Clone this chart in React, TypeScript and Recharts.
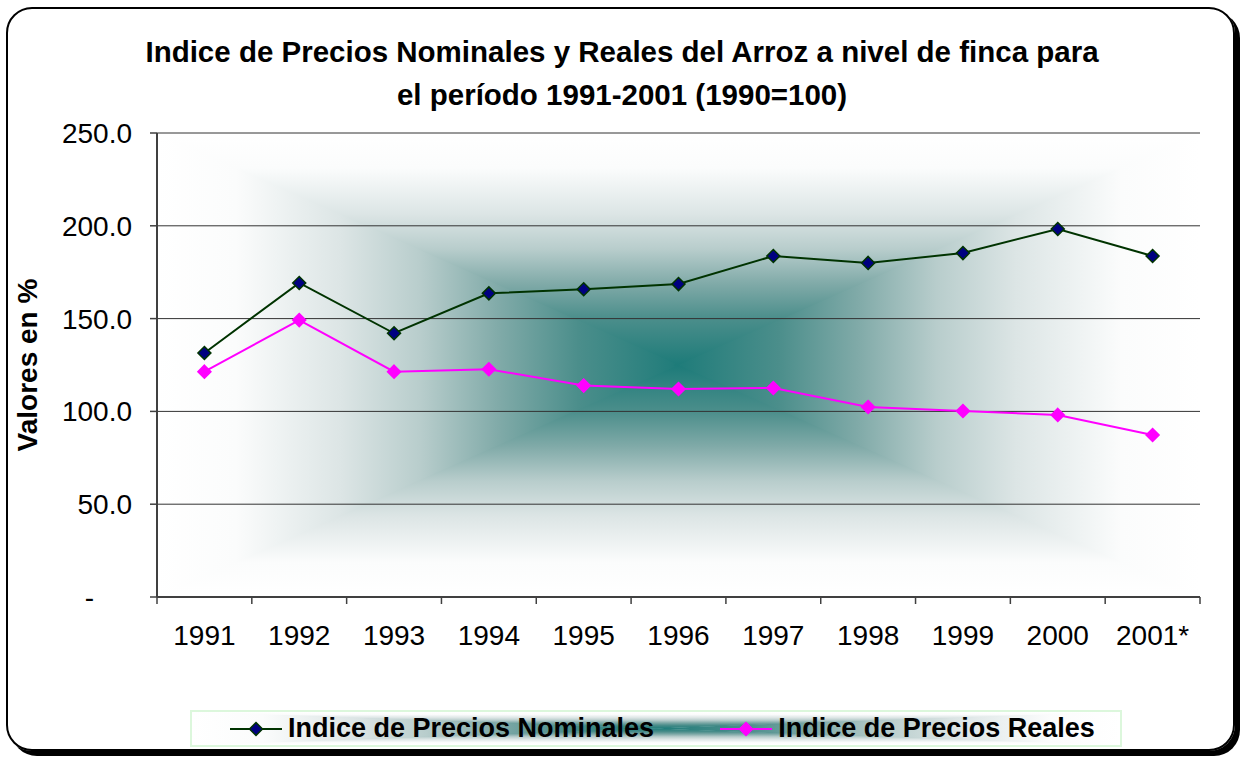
import { CartesianGrid, Line, LineChart, XAxis, YAxis } from "recharts";

const YEARS = ["1991", "1992", "1993", "1994", "1995", "1996", "1997", "1998", "1999", "2000", "2001*"];
const NOMINAL = [131.5, 169.2, 142.1, 163.6, 165.8, 168.6, 183.7, 180.0, 185.3, 198.3, 183.7];
const REAL = [121.4, 149.2, 121.4, 122.7, 113.9, 112.1, 112.6, 102.4, 100.2, 98.1, 87.3];
const Y_TICKS = [0, 50, 100, 150, 200, 250];

const TITLE_1 = "Indice de Precios Nominales y Reales del Arroz a nivel de finca para";
const TITLE_2 = "el período 1991-2001 (1990=100)";
const Y_LABEL = "Valores en %";
const NOMINAL_NAME = "Indice de Precios Nominales";
const REAL_NAME = "Indice de Precios Reales";

const NOMINAL_STROKE = "#003300";
const NOMINAL_FILL = "#000080";
const REAL_COLOR = "#ff00ff";
const FONT = "'Liberation Sans', Arial, sans-serif";

const W = 1241;
const H = 761;
const MARGIN = { top: 133, right: 41, left: 57, bottom: 104 };
const Y_AXIS_W = 100;
const PLOT_W = W - MARGIN.left - Y_AXIS_W - MARGIN.right;
const BAND = PLOT_W / YEARS.length;

const data = YEARS.map((year, i) => ({ year, nominal: NOMINAL[i], real: REAL[i] }));

// edge -> centre colour ramp of the "from centre" fill
const STOPS: [number, string][] = [
  [0, "#ffffff"],
  [0.15, "#fbfcfc"],
  [0.35, "#dce5e5"],
  [0.5, "#b8cdcc"],
  [0.65, "#80aaa8"],
  [0.8, "#4b8e8b"],
  [1, "#1d7b79"],
];

function Ramp({ id, x1, y1, x2, y2 }: { id: string; x1: number; y1: number; x2: number; y2: number }) {
  return (
    <linearGradient id={id} x1={x1} y1={y1} x2={x2} y2={y2}>
      {STOPS.map(([o, c]) => (
        <stop key={o} offset={o} stopColor={c} />
      ))}
    </linearGradient>
  );
}

function Defs() {
  return (
    <svg width={0} height={0} style={{ position: "absolute" }}>
      <defs>
        <Ramp id="rT" x1={0} y1={0} x2={0} y2={1} />
        <Ramp id="rB" x1={0} y1={1} x2={0} y2={0} />
        <Ramp id="rL" x1={0} y1={0} x2={1} y2={0} />
        <Ramp id="rR" x1={1} y1={0} x2={0} y2={0} />
        <pattern id="ctr" patternUnits="objectBoundingBox" patternContentUnits="objectBoundingBox" x={0} y={0} width={1} height={1}>
          {/* side pieces slightly oversized so the top/bottom pieces cover the seams */}
          <polygon points="0,-0.05 0.505,0.5 0,1.05" fill="url(#rL)" />
          <polygon points="1,-0.05 0.495,0.5 1,1.05" fill="url(#rR)" />
          <polygon points="0,0 1,0 0.5,0.5" fill="url(#rT)" />
          <polygon points="0,1 1,1 0.5,0.5" fill="url(#rB)" />
        </pattern>
      </defs>
    </svg>
  );
}

function Diamond({ cx, cy, fill, stroke }: { cx: number; cy: number; fill: string; stroke: string }) {
  const r = 6.5;
  return (
    <polygon
      points={`${cx},${cy - r} ${cx + r},${cy} ${cx},${cy + r} ${cx - r},${cy}`}
      fill={fill}
      stroke={stroke}
      strokeWidth={1.5}
    />
  );
}

function XTick(props: any) {
  const { x, y, payload } = props;
  const i = YEARS.indexOf(payload.value);
  const left = x - BAND / 2;
  return (
    <g>
      <line x1={left} y1={y - 7} x2={left} y2={y} stroke="#404040" strokeWidth={1.5} />
      {i === YEARS.length - 1 && (
        <line x1={x + BAND / 2} y1={y - 7} x2={x + BAND / 2} y2={y} stroke="#404040" strokeWidth={1.5} />
      )}
      <text x={x} y={y + 21} dy="0.71em" textAnchor="middle" fontSize={28} fontFamily={FONT} fill="#000">
        {payload.value}
      </text>
    </g>
  );
}

function YTick(props: any) {
  const { x, y, payload } = props;
  const v = payload.value as number;
  return (
    <text
      x={v === 0 ? x - 38 : x}
      y={y}
      dy="0.355em"
      textAnchor="end"
      fontSize={28}
      fontFamily={FONT}
      fill="#000"
    >
      {v === 0 ? "-" : v.toFixed(1)}
    </text>
  );
}

function LegendIcon({ fill, stroke }: { fill: string; stroke: string }) {
  return (
    <svg width={52} height={20} style={{ display: "block" }}>
      <line x1={0} y1={10} x2={52} y2={10} stroke={stroke} strokeWidth={2} />
      <Diamond cx={26} cy={10} fill={fill} stroke={stroke} />
    </svg>
  );
}

export default function App() {
  return (
    <div style={{ position: "absolute", left: 0, top: 0, width: W, height: H, background: "#fff", fontFamily: FONT }}>
      <Defs />
      <div
        style={{
          position: "absolute",
          left: 6,
          top: 7,
          width: 1229,
          height: 744,
          boxSizing: "border-box",
          border: "2px solid #000",
          borderRadius: 26,
          boxShadow: "5px 5px 0 #000",
        }}
      />
      <div
        style={{
          position: "absolute",
          left: 0,
          top: 30,
          width: 1244,
          textAlign: "center",
          fontWeight: "bold",
          fontSize: 29.5,
          lineHeight: "43px",
          color: "#000",
        }}
      >
        <div>{TITLE_1}</div>
        <div>{TITLE_2}</div>
      </div>
      <div
        style={{
          position: "absolute",
          left: 28,
          top: 365,
          transform: "translate(-50%, -50%) rotate(-90deg)",
          whiteSpace: "nowrap",
          fontWeight: "bold",
          fontSize: 28,
          lineHeight: 1,
        }}
      >
        {Y_LABEL}
      </div>
      <div style={{ position: "absolute", left: 0, top: 0 }}>
        <LineChart width={W} height={H} data={data} margin={MARGIN}>
          <CartesianGrid vertical={false} stroke="#333" fill="url(#ctr)" />
          <XAxis
            dataKey="year"
            height={60}
            interval={0}
            padding={{ left: BAND / 2, right: BAND / 2 }}
            tickLine={false}
            tickSize={7}
            tickMargin={0}
            axisLine={{ stroke: "#404040", strokeWidth: 2 }}
            tick={<XTick />}
          />
          <XAxis
            xAxisId="top"
            dataKey="year"
            orientation="top"
            height={0}
            tick={false}
            tickLine={false}
            axisLine={{ stroke: "#999", strokeWidth: 2 }}
          />
          <YAxis
            width={Y_AXIS_W}
            domain={[0, 250]}
            ticks={Y_TICKS}
            interval={0}
            tickSize={7}
            tickMargin={18}
            tickLine={{ stroke: "#404040", strokeWidth: 1.5 }}
            axisLine={{ stroke: "#404040", strokeWidth: 2 }}
            tick={<YTick />}
          />
          <YAxis
            yAxisId="right"
            orientation="right"
            width={0}
            domain={[0, 250]}
            tick={false}
            tickLine={false}
            axisLine={{ stroke: "#999", strokeWidth: 2 }}
          />
          <Line
            dataKey="nominal"
            name={NOMINAL_NAME}
            stroke={NOMINAL_STROKE}
            strokeWidth={2}
            isAnimationActive={false}
            activeDot={false}
            dot={(p: any) => <Diamond key={p.index} cx={p.cx} cy={p.cy} fill={NOMINAL_FILL} stroke={NOMINAL_STROKE} />}
          />
          <Line
            dataKey="real"
            name={REAL_NAME}
            stroke={REAL_COLOR}
            strokeWidth={2}
            isAnimationActive={false}
            activeDot={false}
            dot={(p: any) => <Diamond key={p.index} cx={p.cx} cy={p.cy} fill={REAL_COLOR} stroke={REAL_COLOR} />}
          />
        </LineChart>
      </div>
      <div
        style={{
          position: "absolute",
          left: 190,
          top: 710,
          width: 932,
          height: 37,
          boxSizing: "border-box",
          border: "2px solid #dcf7dc",
          display: "flex",
          alignItems: "center",
          fontWeight: "bold",
          fontSize: 27,
          color: "#000",
        }}
      >
        <svg width="100%" height="100%" style={{ position: "absolute", left: 0, top: 0 }} preserveAspectRatio="none">
          <rect x={0} y={0} width="100%" height="100%" fill="url(#ctr)" />
        </svg>
        <div style={{ position: "relative", display: "flex", alignItems: "center", marginLeft: 38 }}>
          <LegendIcon fill={NOMINAL_FILL} stroke={NOMINAL_STROKE} />
          <span style={{ marginLeft: 6 }}>{NOMINAL_NAME}</span>
        </div>
        <div style={{ position: "relative", display: "flex", alignItems: "center", marginLeft: 66 }}>
          <LegendIcon fill={REAL_COLOR} stroke={REAL_COLOR} />
          <span style={{ marginLeft: 6 }}>{REAL_NAME}</span>
        </div>
      </div>
    </div>
  );
}
